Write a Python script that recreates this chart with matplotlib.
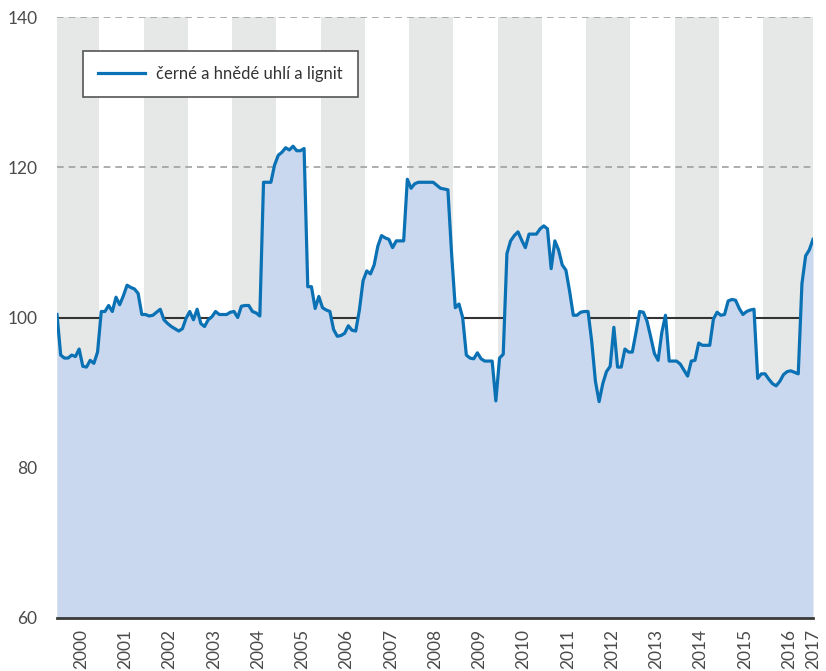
import matplotlib
matplotlib.use("Agg")
import matplotlib.pyplot as plt
import numpy as np

plt.rcParams['font.family'] = ['Lato', 'DejaVu Sans']

# měsíční index, leden 2000 = 0
roky = [str(r) for r in range(2000, 2018)]

hodnoty_2000 = [100.4, 95.0, 94.6, 94.6, 95.0, 94.8, 95.8, 93.5, 93.4, 94.3, 93.9, 95.4]
hodnoty_2001 = [100.8, 100.8, 101.6, 100.8, 102.7, 101.7, 102.9, 104.3, 104.0, 103.8, 103.2, 100.4]
hodnoty_2002 = [100.4, 100.2, 100.3, 100.7, 101.1, 99.7, 99.2, 98.8, 98.5, 98.2, 98.5, 99.9]
hodnoty_2003 = [100.8, 99.7, 101.1, 99.2, 98.8, 99.7, 100.1, 100.8, 100.4, 100.4, 100.4, 100.7]
hodnoty_2004 = [100.8, 100.0, 101.5, 101.6, 101.6, 100.8, 100.6, 100.2, 118.0, 118.0, 118.0, 120.3]
hodnoty_2005 = [121.6, 122.0, 122.6, 122.3, 122.8, 122.2, 122.2, 122.5, 104.1, 104.1, 101.2, 102.8]
hodnoty_2006 = [101.3, 101.0, 100.8, 98.4, 97.5, 97.6, 97.9, 98.9, 98.3, 98.2, 101.0, 104.9]
hodnoty_2007 = [106.2, 105.8, 107.0, 109.5, 110.9, 110.6, 110.4, 109.3, 110.2, 110.2, 110.2, 118.4]
hodnoty_2008 = [117.2, 117.8, 118.0, 118.0, 118.0, 118.0, 118.0, 117.6, 117.2, 117.1, 117.0, 108.5]
hodnoty_2009 = [101.3, 101.8, 100.0, 95.0, 94.6, 94.5, 95.3, 94.5, 94.2, 94.2, 94.2, 88.9]
hodnoty_2010 = [94.6, 95.1, 108.5, 110.2, 110.9, 111.4, 110.3, 109.3, 111.1, 111.1, 111.1, 111.8]
hodnoty_2011 = [112.2, 111.8, 106.5, 110.2, 109.0, 107.0, 106.3, 103.5, 100.3, 100.3, 100.7, 100.8]
hodnoty_2012 = [100.8, 96.8, 91.5, 88.8, 91.2, 92.8, 93.5, 98.7, 93.4, 93.4, 95.8, 95.4]
hodnoty_2013 = [95.4, 98.0, 100.8, 100.7, 99.5, 97.4, 95.2, 94.3, 98.0, 100.3, 94.2, 94.2]
hodnoty_2014 = [94.2, 93.8, 93.0, 92.2, 94.2, 94.3, 96.6, 96.3, 96.3, 96.3, 99.8, 100.7]
hodnoty_2015 = [100.3, 100.4, 102.2, 102.4, 102.3, 101.2, 100.4, 100.8, 101.0, 101.1, 91.9, 92.5]
hodnoty_2016 = [92.5, 91.8, 91.2, 90.9, 91.5, 92.4, 92.8, 92.9, 92.7, 92.5, 104.5, 108.2]
hodnoty_2017 = [109.0, 110.4]

hodnoty = (hodnoty_2000 + hodnoty_2001 + hodnoty_2002 + hodnoty_2003 + hodnoty_2004 +
           hodnoty_2005 + hodnoty_2006 + hodnoty_2007 + hodnoty_2008 + hodnoty_2009 +
           hodnoty_2010 + hodnoty_2011 + hodnoty_2012 + hodnoty_2013 + hodnoty_2014 +
           hodnoty_2015 + hodnoty_2016 + hodnoty_2017)
mesice = np.arange(len(hodnoty))
konec = mesice[-1]

BARVA_CARA = '#0a71b4'
BARVA_PLOCHA = '#c9d8ee'
BARVA_PAS = '#e6e7e7'
BARVA_TEXT = '#4a4a4a'

fig = plt.figure(figsize=(8.26, 6.71), dpi=100)
ax = fig.add_axes([57 / 826, 1 - 618 / 671, 756 / 826, 601 / 671])

# šedé pásy pro sudé roky
for i in range(0, len(roky) - 1, 2):
    od = max(0, i * 12 - 0.5)
    do = i * 12 + 11.5 if i < 16 else konec
    ax.axvspan(od, do, color=BARVA_PAS, lw=0, zorder=0)

for y in (120, 140):
    ax.axhline(y, color='#a0a0a0', lw=1.2, ls=(0, (4, 3)), zorder=1)
ax.axhline(100, color='#333333', lw=1.5, zorder=1)

ax.fill_between(mesice, hodnoty, 60, color=BARVA_PLOCHA, lw=0, zorder=2)
ax.plot(mesice, hodnoty, color=BARVA_CARA, lw=2.3, zorder=3,
        label='černé a hnědé uhlí a lignit')

ax.set_xlim(0, konec)
ax.set_ylim(60, 140)
ax.set_yticks([60, 80, 100, 120, 140])

pozice = [i * 12 + 6.5 for i in range(len(roky) - 1)] + [konec]
ax.set_xticks(pozice)
ax.set_xticklabels(roky, rotation=90)

ax.tick_params(axis='y', length=0, pad=14, labelsize=12.5, labelcolor=BARVA_TEXT)
ax.tick_params(axis='x', length=0, pad=8, labelsize=12.5, labelcolor=BARVA_TEXT)

for s in ('left', 'right', 'top'):
    ax.spines[s].set_visible(False)
ax.spines['bottom'].set_color('#3a3a3a')
ax.spines['bottom'].set_linewidth(2)
ax.spines['bottom'].set_zorder(4)

leg = ax.legend(loc='upper left', bbox_to_anchor=(26 / 756, 1 - 34 / 601),
                borderaxespad=0, fancybox=False, framealpha=1, fontsize=12,
                handlelength=2.8, handletextpad=0.7, borderpad=0.9,
                edgecolor='#555555')
leg.get_frame().set_linewidth(1.2)
for t in leg.get_texts():
    t.set_color('#333333')

fig.savefig('out.png', dpi=100)
